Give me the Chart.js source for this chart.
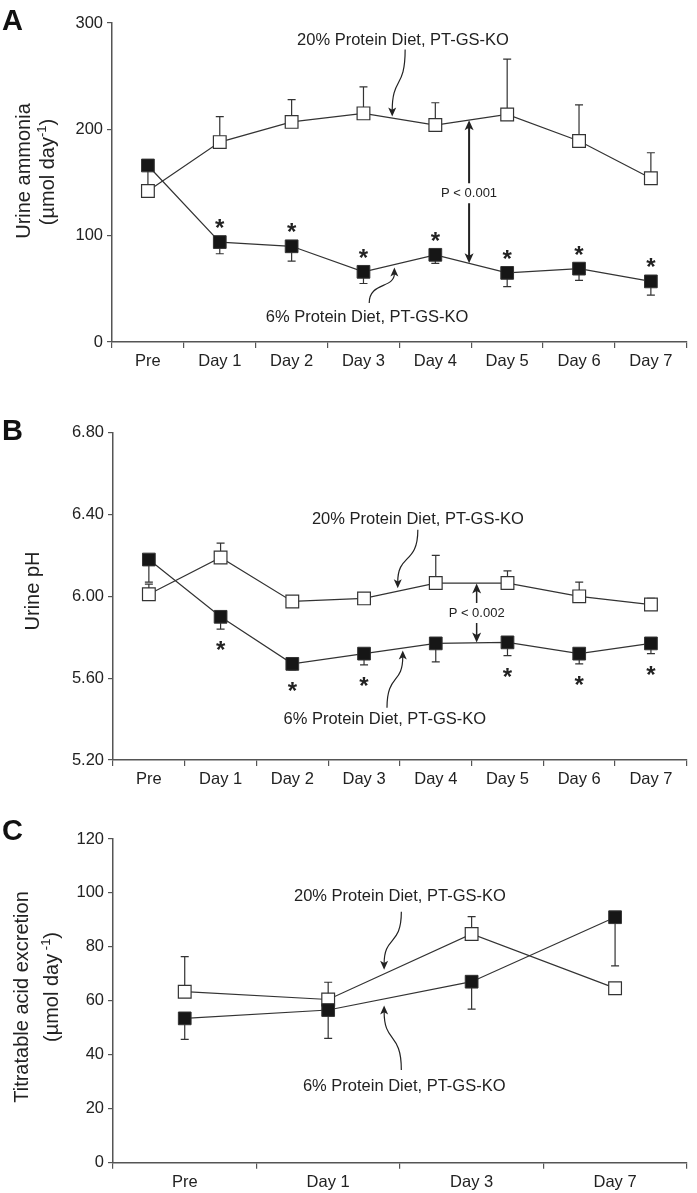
<!DOCTYPE html>
<html lang="en">
<head>
<meta charset="UTF-8" />
<title>Urine ammonia, pH and titratable acid - PT-GS-KO</title>
<script src="https://cdn.jsdelivr.net/npm/chart.js@4"></script>
<style>
  body { margin: 0; background: #fff; }
  canvas { position: absolute; left: 0; }
</style>
</head>
<body>
<canvas id="chartA" width="697" height="385" style="top:0px"></canvas>
<canvas id="chartB" width="697" height="405" style="top:385px"></canvas>
<canvas id="chartC" width="697" height="403" style="top:790px"></canvas>
<script>
  // ---- data ----
  const daysAB = ['Pre', 'Day 1', 'Day 2', 'Day 3', 'Day 4', 'Day 5', 'Day 6', 'Day 7'];
  const daysC = ['Pre', 'Day 1', 'Day 3', 'Day 7'];

  // A: urine ammonia (umol/day)
  const ammonia20 = [142, 188, 207, 215, 204, 214, 189, 154];
  const ammonia20Err = [null, 212, 228, 240, 225, 266, 223, 178];
  const ammonia6 = [166, 94, 90, 66, 82, 65, 69, 57];
  const ammonia6Err = [146, 83, 76, 55, 74, 52, 58, 44];
  const ammoniaStars = [0, 1, 1, 1, 1, 1, 1, 1];

  // B: urine pH
  const pH20 = [6.01, 6.19, 5.975, 5.99, 6.065, 6.065, 6.0, 5.96];
  const pH20Err = [6.06, 6.26, null, null, 6.20, 6.125, 6.07, 5.99];
  const pH6 = [6.18, 5.90, 5.67, 5.72, 5.77, 5.775, 5.72, 5.77];
  const pH6Err = [6.07, 5.84, 5.64, 5.665, 5.68, 5.71, 5.67, 5.72];
  const pHStars = [0, 1, 1, 1, 0, 1, 1, 1];

  // C: titratable acid excretion (umol/day)
  const acid20 = [63.4, 60.5, 84.8, 64.7];
  const acid20Err = [76.4, 66.9, 91.2, null];
  const acid6 = [53.5, 56.6, 67.1, 91];
  const acid6Err = [45.7, 46.1, 56.9, 73];

  const label20 = '20% Protein Diet, PT-GS-KO';
  const label6 = '6% Protein Diet, PT-GS-KO';

  const FONT = '"Liberation Sans", Arial, Helvetica, sans-serif';
  const INK = '#222';
  const AXIS = '#555';
  const LINE = '#333';

  function arrowHead(ctx, x, y, ang, len, half) {
    ctx.save();
    ctx.translate(x, y);
    ctx.rotate(ang);
    ctx.beginPath();
    ctx.moveTo(0, 0);
    ctx.lineTo(-len, -half);
    ctx.lineTo(-len * 0.75, 0);
    ctx.lineTo(-len, half);
    ctx.closePath();
    ctx.fill();
    ctx.restore();
  }

  function drawRotated(ctx, parts, cx, cy) {
    ctx.save();
    ctx.translate(cx, cy);
    ctx.rotate(-Math.PI / 2);
    ctx.textBaseline = 'middle';
    ctx.textAlign = 'left';
    ctx.fillStyle = INK;
    const fonts = parts.map(pt => (pt.sup ? '13px ' : '20px ') + FONT);
    const widths = parts.map((pt, k) => { ctx.font = fonts[k]; return ctx.measureText(pt.t).width; });
    let xx = -widths.reduce((a, b) => a + b, 0) / 2;
    parts.forEach((pt, k) => {
      ctx.font = fonts[k];
      ctx.fillText(pt.t, xx, pt.sup ? -6 : 0);
      xx += widths[k];
    });
    ctx.restore();
  }

  function panelPlugin(p) {
    return {
      id: 'panel' + p.letter,
      beforeDatasetsDraw(chart) {
        const { ctx, scales: { x, y } } = chart;
        ctx.save();
        ctx.strokeStyle = LINE;
        ctx.lineWidth = 1.2;
        p.bars.forEach(([mean, err]) => {
          err.forEach((v, i) => {
            if (v == null) return;
            const px = x.getPixelForValue(i);
            const y0 = y.getPixelForValue(mean[i]);
            const y1 = y.getPixelForValue(v);
            ctx.beginPath();
            ctx.moveTo(px, y0);
            ctx.lineTo(px, y1);
            ctx.moveTo(px - 4, y1);
            ctx.lineTo(px + 4, y1);
            ctx.stroke();
          });
        });
        ctx.restore();
      },
      afterDatasetsDraw(chart) {
        const { ctx, scales: { x, y } } = chart;
        ctx.save();
        ctx.fillStyle = INK;
        ctx.strokeStyle = INK;

        // significance stars
        if (p.stars) {
          ctx.font = 'bold 24px ' + FONT;
          ctx.textAlign = 'center';
          ctx.textBaseline = 'alphabetic';
          p.stars.flags.forEach((f, i) => {
            if (!f) return;
            const px = x.getPixelForValue(i);
            const cy = p.stars.mode === 'above'
              ? y.getPixelForValue(p.stars.mean[i]) - 20
              : y.getPixelForValue(p.stars.err[i]) + 15;
            ctx.fillText('*', px, cy + 14);
          });
        }

        // series labels
        ctx.font = '16.5px ' + FONT;
        ctx.textAlign = 'center';
        ctx.textBaseline = 'middle';
        p.labels.forEach(l => ctx.fillText(l.text, x.getPixelForValue(l.i), y.getPixelForValue(l.v)));

        // curved pointer arrows
        ctx.lineWidth = 1.2;
        p.curves.forEach(c => {
          const sx = x.getPixelForValue(c.from[0]), sy = y.getPixelForValue(c.from[1]);
          const ex = x.getPixelForValue(c.to[0]), ey = y.getPixelForValue(c.to[1]);
          const dy = ey - sy;
          const c1x = sx, c1y = sy + dy * 0.6;
          const c2x = ex, c2y = sy + dy * 0.4;
          const ang = Math.atan2(ey - c2y, ex - c2x);
          ctx.beginPath();
          ctx.moveTo(sx, sy);
          ctx.bezierCurveTo(c1x, c1y, c2x, c2y, ex - Math.cos(ang) * 6, ey - Math.sin(ang) * 6);
          ctx.stroke();
          arrowHead(ctx, ex, ey, ang, 9, 4);
        });

        // P-value double arrow
        if (p.pArrow) {
          const a = p.pArrow;
          const px = x.getPixelForValue(a.i);
          const top = y.getPixelForValue(a.top);
          const bot = y.getPixelForValue(a.bottom);
          const ty = y.getPixelForValue(a.textV);
          ctx.lineWidth = a.width;
          ctx.beginPath();
          ctx.moveTo(px, top + 6);
          ctx.lineTo(px, ty - 10);
          ctx.moveTo(px, ty + 10);
          ctx.lineTo(px, bot - 6);
          ctx.stroke();
          arrowHead(ctx, px, top, -Math.PI / 2, 10, 4.5);
          arrowHead(ctx, px, bot, Math.PI / 2, 10, 4.5);
          ctx.font = '13px ' + FONT;
          ctx.fillText(a.text, px, ty);
        }
        ctx.restore();
      },
      afterDraw(chart) {
        const ctx = chart.ctx;
        ctx.save();
        ctx.fillStyle = '#111';
        ctx.font = 'bold 29px ' + FONT;
        ctx.textAlign = 'left';
        ctx.textBaseline = 'alphabetic';
        ctx.fillText(p.letter, 2, p.letterBase);
        p.yTitle.forEach(t => drawRotated(ctx, t.parts, t.x, t.y));
        ctx.restore();
      }
    };
  }

  function makePanel(id, p) {
    const tickFont = { family: FONT, size: 16.5 };
    new Chart(document.getElementById(id), {
      type: 'line',
      data: {
        labels: p.labels_x,
        datasets: [
          {
            data: p.filled,
            borderColor: LINE,
            borderWidth: 1.2,
            pointStyle: 'rect',
            pointRadius: 9,
            pointBackgroundColor: '#161616',
            pointBorderColor: LINE,
            pointBorderWidth: 1,
            tension: 0
          },
          {
            data: p.open,
            borderColor: LINE,
            borderWidth: 1.2,
            pointStyle: 'rect',
            pointRadius: 9,
            pointBackgroundColor: '#fff',
            pointBorderColor: LINE,
            pointBorderWidth: 1.2,
            tension: 0
          }
        ]
      },
      options: {
        responsive: false,
        animation: false,
        layout: { padding: { top: p.top, right: p.right, left: 0, bottom: 0 } },
        plugins: { legend: { display: false }, tooltip: { enabled: false } },
        scales: {
          x: {
            offset: true,
            grid: { offset: true, drawOnChartArea: false, tickLength: 6, color: AXIS, lineWidth: 1.2 },
            border: { color: AXIS, width: 1.5 },
            ticks: { font: tickFont, color: INK, padding: 4, maxRotation: 0 },
            afterFit: s => { s.height = p.xHeight; }
          },
          y: {
            min: p.min,
            max: p.max,
            grid: { drawOnChartArea: false, tickLength: 5, color: AXIS, lineWidth: 1.2 },
            border: { color: AXIS, width: 1.5 },
            ticks: { stepSize: p.step, font: tickFont, color: INK, padding: 4, callback: p.fmt },
            afterFit: s => { s.width = p.left; }
          }
        }
      },
      plugins: [panelPlugin(p)]
    });
  }

  makePanel('chartA', {
    letter: 'A', letterBase: 30,
    labels_x: daysAB, open: ammonia20, filled: ammonia6,
    bars: [[ammonia20, ammonia20Err], [ammonia6, ammonia6Err]],
    stars: { flags: ammoniaStars, mode: 'above', mean: ammonia6 },
    min: 0, max: 300, step: 100, fmt: v => v,
    top: 23, right: 2, left: 112, xHeight: 43,
    labels: [{ text: label20, i: 3.55, v: 284 }, { text: label6, i: 3.05, v: 23.5 }],
    curves: [{ from: [3.58, 275], to: [3.40, 212] }, { from: [3.08, 36.7], to: [3.43, 70] }],
    pArrow: { i: 4.47, top: 208.5, bottom: 74, textV: 140, text: 'P < 0.001', width: 2 },
    yTitle: [
      { parts: [{ t: 'Urine ammonia' }], x: 24, y: 171 },
      { parts: [{ t: '(µmol day' }, { t: '-1', sup: true }, { t: ')' }], x: 48, y: 172 }
    ]
  });

  makePanel('chartB', {
    letter: 'B', letterBase: 55,
    labels_x: daysAB, open: pH20, filled: pH6,
    bars: [[pH20, pH20Err], [pH6, pH6Err]],
    stars: { flags: pHStars, mode: 'below', err: pH6Err },
    min: 5.2, max: 6.8, step: 0.4, fmt: v => Number(v).toFixed(2),
    top: 47.7, right: 2, left: 113, xHeight: 30,
    labels: [{ text: label20, i: 3.75, v: 6.375 }, { text: label6, i: 3.29, v: 5.397 }],
    curves: [{ from: [3.75, 6.326], to: [3.47, 6.04] }, { from: [3.32, 5.455], to: [3.54, 5.735] }],
    pArrow: { i: 4.57, top: 6.063, bottom: 5.775, textV: 5.918, text: 'P < 0.002', width: 1.5 },
    yTitle: [{ parts: [{ t: 'Urine pH' }], x: 33, y: 206 }]
  });

  makePanel('chartC', {
    letter: 'C', letterBase: 50,
    labels_x: daysC, open: acid20, filled: acid6,
    bars: [[acid20, acid20Err], [acid6, acid6Err]],
    stars: null,
    min: 0, max: 120, step: 20, fmt: v => v,
    top: 49, right: 8, left: 113, xHeight: 30.3,
    labels: [{ text: label20, i: 1.50, v: 98.6 }, { text: label6, i: 1.53, v: 28.4 }],
    curves: [{ from: [1.51, 93], to: [1.39, 71.5] }, { from: [1.51, 34.4], to: [1.39, 58.3] }],
    pArrow: null,
    yTitle: [
      { parts: [{ t: 'Titratable acid excretion' }], x: 22, y: 207 },
      { parts: [{ t: '(µmol day' }, { t: ' -1', sup: true }, { t: ')' }], x: 52, y: 197 }
    ]
  });
</script>
</body>
</html>
